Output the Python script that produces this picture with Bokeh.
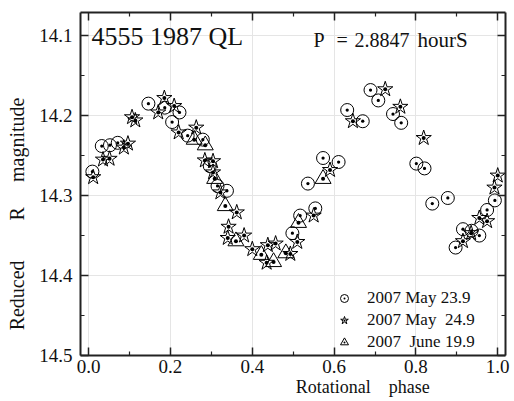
from bokeh.plotting import figure
from bokeh.models import (Range1d, LinearAxis, Label, Legend, LegendItem,
                          FixedTicker, CustomLabelingPolicy)
from bokeh.embed import file_html
from bokeh.resources import INLINE

# ---- data -------------------------------------------------------------
phase_may23 = [0.009, 0.032, 0.052, 0.071, 0.146, 0.186, 0.204, 0.222, 0.242,
               0.279, 0.296, 0.315, 0.338, 0.498, 0.517, 0.536, 0.554, 0.573,
               0.611, 0.632, 0.670, 0.689, 0.708, 0.744, 0.764, 0.801, 0.821,
               0.840, 0.878, 0.897, 0.915, 0.936, 0.955, 0.974, 0.993]
mag_may23 = [14.270, 14.238, 14.237, 14.234, 14.185, 14.190, 14.208, 14.196,
             14.225, 14.230, 14.263, 14.288, 14.294, 14.347, 14.325, 14.285,
             14.316, 14.253, 14.258, 14.193, 14.207, 14.168, 14.181, 14.198,
             14.209, 14.260, 14.266, 14.310, 14.303, 14.365, 14.342, 14.344,
             14.350, 14.318, 14.306]

phase_may24 = [0.011, 0.035, 0.051, 0.086, 0.096, 0.106, 0.114, 0.170, 0.185,
               0.209, 0.220, 0.263, 0.284, 0.304, 0.304, 0.322, 0.342, 0.340,
               0.362, 0.380, 0.400, 0.435, 0.438, 0.457, 0.493, 0.510, 0.550,
               0.590, 0.646, 0.725, 0.762, 0.819, 0.915, 0.935, 0.955, 0.974,
               0.992, 1.000]
mag_may24 = [14.277, 14.255, 14.254, 14.240, 14.235, 14.202, 14.206, 14.196,
             14.178, 14.188, 14.221, 14.215, 14.256, 14.257, 14.271, 14.296,
             14.339, 14.353, 14.321, 14.350, 14.367, 14.384, 14.362, 14.360,
             14.373, 14.358, 14.325, 14.268, 14.207, 14.167, 14.189, 14.228,
             14.357, 14.347, 14.328, 14.332, 14.290, 14.275]

phase_jun19 = [0.258, 0.285, 0.308, 0.334, 0.360, 0.422, 0.452, 0.482, 0.513,
               0.573]
mag_jun19 = [14.230, 14.237, 14.279, 14.313, 14.357, 14.374, 14.383, 14.372,
             14.334, 14.279]

series_labels = ["2007 May 23.9", "2007 May  24.9", "2007  June 19.9"]

x_ticks = [0.0, 0.2, 0.4, 0.6, 0.8, 1.0]
x_tick_labels = ["0.0", "0.2", "0.4", "0.6", "0.8", "1.0"]
x_minor = [0.1, 0.3, 0.5, 0.7, 0.9]
y_ticks = [14.1, 14.2, 14.3, 14.4, 14.5]
y_tick_labels = ["14.1", "14.2", "14.3", "14.4", "14.5"]
y_minor = [14.15, 14.25, 14.35, 14.45]

title_text = "4555 1987 QL"
period_parts = ["P", "=", "2.8847", "hourS"]
xlabel_words = ["Rotational", "phase"]
ylabel_words = ["Reduced", "R", "magnitude"]

FONT = "Liberation Serif"
NB = "\u00a0"

# ---- figure -----------------------------------------------------------
p = figure(width=514, height=401, output_backend="svg", toolbar_location=None,
           x_range=Range1d(-0.02, 1.019), y_range=Range1d(14.5, 14.071),
           x_axis_location=None, y_axis_location=None,
           min_border_left=80, min_border_right=9, min_border_top=12,
           min_border_bottom=46)
p.outline_line_color = None
p.background_fill_color = "white"
p.border_fill_color = "white"

hide_all = "for (let i = 0; i < indices.size; i++) { indices.unset(i) }\nreturn indices"


def style_axis(ax, show_labels):
    ax.axis_line_width = 2
    ax.axis_line_color = "#222222"
    ax.major_tick_in = 8
    ax.major_tick_out = 0
    ax.minor_tick_in = 4
    ax.minor_tick_out = 0
    ax.major_tick_line_color = "#222222"
    ax.minor_tick_line_color = "#222222"
    ax.major_tick_line_width = 1.5
    ax.minor_tick_line_width = 1.2
    ax.major_label_text_font = FONT
    ax.major_label_text_color = "#111111"
    ax.axis_label_text_font = FONT
    ax.axis_label_text_font_style = "normal"
    ax.axis_label_text_color = "#111111"
    if show_labels:
        ax.major_label_text_font_size = "19px"
    else:
        ax.major_label_text_font_size = "1px"
        ax.major_label_standoff = 0
        ax.major_label_policy = CustomLabelingPolicy(code=hide_all)


xt = dict(zip(x_ticks, x_tick_labels))
yt = dict(zip(y_ticks, y_tick_labels))

xlabel = NB * 31 + xlabel_words[0] + NB * 4 + xlabel_words[1]
ylabel = ylabel_words[0] + NB * 8 + ylabel_words[1] + NB * 5 + ylabel_words[2] + NB * 12

ax_b = LinearAxis(ticker=FixedTicker(ticks=x_ticks, minor_ticks=x_minor),
                  major_label_overrides=xt, axis_label=xlabel)
ax_t = LinearAxis(ticker=FixedTicker(ticks=x_ticks, minor_ticks=x_minor))
ax_l = LinearAxis(ticker=FixedTicker(ticks=y_ticks, minor_ticks=y_minor),
                  major_label_overrides=yt, axis_label=ylabel)
ax_r = LinearAxis(ticker=FixedTicker(ticks=y_ticks, minor_ticks=y_minor))
style_axis(ax_b, True)
style_axis(ax_l, True)
style_axis(ax_t, False)
style_axis(ax_r, False)
ax_b.major_label_standoff = 4
ax_b.axis_label_standoff = 1
ax_b.axis_label_text_font_size = "18px"
ax_l.major_label_standoff = 8
ax_l.axis_label_standoff = 8
ax_l.axis_label_text_font_size = "20px"
p.add_layout(ax_b, "below")
p.add_layout(ax_l, "left")
p.add_layout(ax_t, "above")
p.add_layout(ax_r, "right")

# ---- markers ----------------------------------------------------------
r1 = p.scatter(phase_may23, mag_may23, marker="circle_dot", size=13,
               line_color="black", fill_color=None, line_width=1)
r2 = p.scatter(phase_may24, mag_may24, marker="star_dot", size=16,
               line_color="black", fill_color=None, line_width=1)
r3 = p.scatter(phase_jun19, mag_jun19, marker="triangle_dot", size=16,
               line_color="black", fill_color=None, line_width=1)

legend = Legend(items=[LegendItem(label=series_labels[0], renderers=[r1]),
                       LegendItem(label=series_labels[1], renderers=[r2]),
                       LegendItem(label=series_labels[2], renderers=[r3])],
                location=(254, 3), glyph_width=20, glyph_height=20,
                label_standoff=13, padding=0, spacing=2, margin=0,
                border_line_color=None, background_fill_alpha=0,
                label_text_font=FONT, label_text_font_size="17px",
                label_text_color="#111111")
p.add_layout(legend)


# ---- texts inside the frame (screen units from frame bottom-left) ------
def add_label(text, x, y, size):
    p.add_layout(Label(x=x, y=y, x_units="screen", y_units="screen",
                       text=text, text_font=FONT, text_font_size=size,
                       text_color="#111111", text_baseline="alphabetic",
                       text_align="left"))


add_label(title_text, 11, 319, "26px")
add_label(period_parts[0], 233, 316, "20px")
add_label(period_parts[1], 256, 316, "20px")
add_label(period_parts[2], 274, 316, "20px")
add_label(period_parts[3], 337, 316, "21px")

open("out.html", "w").write(file_html(p, INLINE))
